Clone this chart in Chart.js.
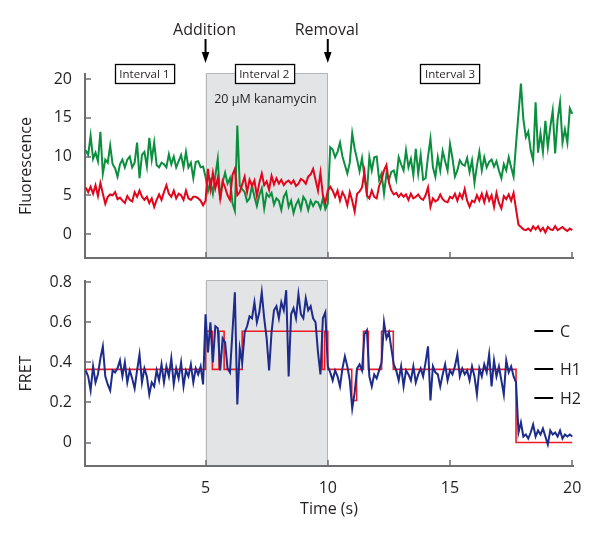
<!DOCTYPE html>
<html>
<head>
<meta charset="utf-8">
<script src="https://cdn.jsdelivr.net/npm/chart.js@4.4.1/dist/chart.umd.min.js"></script>
<style>
  html, body { margin: 0; padding: 0; background: #ffffff; }
  #wrap { position: relative; width: 601px; height: 537px; }
  canvas { position: absolute; left: 0; top: 0; }
</style>
</head>
<body>
<div id="wrap">
  <canvas id="fluo" width="601" height="537"></canvas>
  <canvas id="fret" width="601" height="537"></canvas>
</div>
<script>
// ---------------- DATA ----------------
const frameTimes = [
  0.1,0.2,0.3,0.4,0.5,0.6,0.7,0.8,0.9,1.0,1.1,1.2,1.3,1.4,1.5,1.6,1.7,1.8,1.9,2.0,
  2.1,2.2,2.3,2.4,2.5,2.6,2.7,2.8,2.9,3.0,3.1,3.2,3.3,3.4,3.5,3.6,3.7,3.8,3.9,4.0,
  4.1,4.2,4.3,4.4,4.5,4.6,4.7,4.8,4.9,5.0,5.1,5.2,5.3,5.4,5.5,5.6,5.7,5.8,5.9,6.0,
  6.1,6.2,6.3,6.4,6.5,6.6,6.7,6.8,6.9,7.0,7.1,7.2,7.3,7.4,7.5,7.6,7.7,7.8,7.9,8.0,
  8.1,8.2,8.3,8.4,8.5,8.6,8.7,8.8,8.9,9.0,9.1,9.2,9.3,9.4,9.5,9.6,9.7,9.8,9.9,10.0,
  10.1,10.2,10.3,10.4,10.5,10.6,10.7,10.8,10.9,11.0,11.1,11.2,11.3,11.4,11.5,11.6,11.7,11.8,11.9,12.0,
  12.1,12.2,12.3,12.4,12.5,12.6,12.7,12.8,12.9,13.0,13.1,13.2,13.3,13.4,13.5,13.6,13.7,13.8,13.9,14.0,
  14.1,14.2,14.3,14.4,14.5,14.6,14.7,14.8,14.9,15.0,15.1,15.2,15.3,15.4,15.5,15.6,15.7,15.8,15.9,16.0,
  16.1,16.2,16.3,16.4,16.5,16.6,16.7,16.8,16.9,17.0,17.1,17.2,17.3,17.4,17.5,17.6,17.7,17.8,17.9,18.0,
  18.1,18.2,18.3,18.4,18.5,18.6,18.7,18.8,18.9,19.0,19.1,19.2,19.3,19.4,19.5,19.6,19.7,19.8,19.9,20.0
];

// Donor (green) fluorescence
const donorFluorescence = [
  10.8,10.2,12.7,9.7,10.5,9.4,13.2,7.8,9.6,9.2, 11.4,9.0,8.5,7.4,9.0,9.6,8.6,9.6,10.0,8.6,
  9.2,11.8,7.2,10.2,10.6,8.7,12.4,9.6,11.8,8.9, 8.6,9.2,9.0,8.6,10.3,9.0,10.0,8.6,9.4,10.2,
  8.6,10.6,8.6,9.2,7.2,9.3,9.4,8.6,8.7,7.4,
  5.5,6.8,5.2,7.5,9.7,4.4,6.7,7.9,6.5,7.2, 4.0,3.0,14.0,6.2,5.8,5.4,4.2,4.6,6.2,4.8,
  3.6,5.0,5.9,3.3,5.2,4.8,5.3,3.8,4.6,4.3, 3.1,4.8,5.4,3.5,4.3,2.7,3.8,4.4,3.2,4.8,
  4.3,3.1,4.3,3.6,4.2,4.1,3.3,4.6,3.2,3.9,
  11.2,10.9,9.9,10.6,11.8,10.0,8.9,7.8,9.2,13.0, 11.0,9.6,8.1,9.8,7.4,5.3,9.9,8.2,9.9,10.0,
  7.0,7.8,5.2,7.8,7.0,8.0,8.2,7.0,9.9,9.0, 8.2,10.8,8.6,9.7,7.6,11.0,7.8,10.2,7.0,7.2,
  10.0,12.3,8.6,7.4,9.9,8.2,10.7,9.4,8.2,11.6, 9.8,7.4,8.2,9.5,9.0,8.8,9.8,8.0,9.5,6.6,
  8.8,10.6,8.2,9.9,8.6,9.3,9.6,8.7,9.4,8.2, 7.2,9.0,8.2,9.9,8.6,7.4,11.6,15.5,19.4,14.8,
  12.5,13.2,10.8,9.5,17.0,10.5,13.0,10.6,14.6,11.2, 13.8,15.9,10.4,14.8,17.0,11.8,13.5,11.8,16.2,15.5
];

// Acceptor (red) fluorescence
const acceptorFluorescence = [
  6.0,5.4,6.1,5.2,6.3,4.9,6.6,5.2,3.9,4.8, 5.1,5.0,5.4,4.5,4.7,4.3,4.0,4.9,4.4,4.2,
  5.4,4.8,5.6,4.8,4.4,4.8,4.0,4.6,3.5,4.4, 5.1,4.4,5.4,6.3,5.2,4.8,5.6,4.6,5.2,5.0,
  4.4,5.6,4.6,4.4,4.8,4.8,4.6,4.3,3.7,4.3,
  8.4,5.8,7.9,5.9,7.2,4.6,6.8,6.0,5.0,4.4, 7.6,8.4,5.0,5.4,6.4,7.4,5.4,7.0,6.2,6.9,
  4.9,6.6,7.8,6.3,6.8,5.7,7.5,6.4,7.2,6.5, 7.0,6.3,6.7,6.9,6.5,6.9,6.2,6.5,7.1,6.9,
  6.5,7.4,7.7,8.4,7.0,5.6,7.9,5.0,4.0,5.6,
  6.1,5.6,4.8,5.6,4.3,5.4,4.8,3.7,5.4,4.3, 2.9,5.2,5.5,6.0,8.0,5.0,4.6,5.6,4.8,4.6,
  6.2,7.0,8.2,8.9,6.6,5.6,5.1,5.3,4.8,5.2, 4.8,5.1,4.4,5.2,4.6,4.8,5.1,4.6,4.4,5.0,
  6.0,3.5,4.6,4.2,4.4,5.1,4.5,4.2,4.1,4.8, 4.6,5.2,4.3,5.2,4.6,5.8,4.3,3.5,4.3,4.1,
  5.0,4.3,5.2,4.1,5.3,4.3,5.0,3.5,5.3,4.0, 3.3,4.9,4.5,5.1,4.3,5.3,3.2,1.2,0.9,0.6,
  0.5,0.7,0.4,1.0,0.6,1.0,0.4,0.8,0.2,0.9, 0.6,0.5,1.0,0.5,0.7,0.9,0.6,0.4,0.7,0.5
];

// FRET efficiency (blue)
const fretTrace = [
  0.36,0.33,0.26,0.38,0.30,0.34,0.42,0.48,0.33,0.29, 0.26,0.36,0.35,0.37,0.41,0.33,0.40,0.30,0.36,0.32,
  0.27,0.36,0.44,0.30,0.37,0.33,0.24,0.30,0.28,0.36, 0.31,0.39,0.30,0.38,0.33,0.42,0.29,0.37,0.32,0.40,
  0.28,0.36,0.33,0.39,0.30,0.37,0.34,0.38,0.29,0.64,
  0.45,0.60,0.40,0.58,0.57,0.36,0.52,0.50,0.37,0.35, 0.55,0.75,0.19,0.47,0.40,0.55,0.58,0.63,0.62,0.70,
  0.60,0.65,0.75,0.62,0.52,0.36,0.55,0.66,0.68,0.62, 0.70,0.66,0.76,0.33,0.64,0.67,0.62,0.74,0.64,0.62,
  0.72,0.66,0.68,0.62,0.60,0.45,0.34,0.62,0.65,0.38,
  0.35,0.31,0.36,0.33,0.28,0.37,0.43,0.38,0.31,0.17, 0.25,0.37,0.39,0.36,0.54,0.56,0.33,0.28,0.34,0.32,
  0.36,0.40,0.60,0.52,0.55,0.47,0.39,0.36,0.31,0.38, 0.28,0.36,0.34,0.31,0.38,0.30,0.34,0.37,0.33,0.40,
  0.48,0.21,0.38,0.35,0.34,0.28,0.34,0.39,0.31,0.36, 0.34,0.38,0.44,0.33,0.37,0.34,0.36,0.31,0.38,0.33,
  0.24,0.37,0.33,0.39,0.35,0.44,0.28,0.41,0.33,0.38, 0.31,0.24,0.41,0.35,0.38,0.33,0.30,0.05,0.10,0.03,
  0.04,0.02,0.05,0.09,0.03,0.06,0.04,0.07,0.03,-0.01, 0.06,0.04,0.05,0.03,0.06,0.02,0.04,0.03,0.04,0.03
];

// Idealized (step) FRET fit: start time of each dwell and its level
const fitTimes  = [0.07, 5.0, 5.28, 5.55, 5.76, 6.5, 9.77, 9.87, 10.0, 10.98, 11.18, 11.46, 11.66, 12.2, 12.68, 17.7, 20.0];
const fitLevels = [0.365, 0.555, 0.365, 0.555, 0.365, 0.555, 0.365, 0.555, 0.365, 0.21, 0.365, 0.555, 0.365, 0.555, 0.365, 0.0, 0.0];

// State reference levels (right side markers)
const stateNames  = ['C', 'H1', 'H2'];
const stateLevels = [0.555, 0.365, 0.22];

// Axes / annotation values
const timeRange = [0.07, 20.03];
const timeTicks = [5, 10, 15, 20];
const fluoRange = [-3.1, 20.65];
const fluoTicks = [0, 5, 10, 15, 20];
const fretRange = [-0.117, 0.806];
const fretTicks = [0, 0.2, 0.4, 0.6, 0.8];
const drugWindow = [5, 10];               // kanamycin addition / removal times
const eventLabels = ['Addition', 'Removal'];
const intervalNames = ['Interval 1', 'Interval 2', 'Interval 3'];
const intervalCenters = [2.5, 7.4, 15.0];
const drugLabel = '20 \u03BCM kanamycin';

// ---------------- STYLE ----------------
const FONT = "'Open Sans', 'DejaVu Sans', sans-serif";
const TEXT = '#231f20';
const AXIS = '#6d6e71';
const GREEN = '#0b8f3e';
const RED = '#e2061c';
const BLUE = '#1d2b8a';
const FIT_RED = '#ec1c24';
const SHADE = '#e3e4e6';
const SHADE_EDGE = '#b4b5b7';

function pts(xs, ys) { return xs.map((t, i) => ({ x: t, y: ys[i] })); }

const shadePlugin = {
  id: 'shade',
  beforeDraw(chart) {
    const { ctx, chartArea, scales } = chart;
    const x1 = scales.x.getPixelForValue(drugWindow[0]);
    const x2 = scales.x.getPixelForValue(drugWindow[1]);
    const top = chartArea.top - 1;
    ctx.save();
    ctx.fillStyle = SHADE;
    ctx.fillRect(x1, top, x2 - x1, chartArea.bottom - top);
    ctx.strokeStyle = SHADE_EDGE;
    ctx.lineWidth = 1;
    ctx.beginPath();
    ctx.moveTo(Math.round(x1) + 0.5, chartArea.bottom);
    ctx.lineTo(Math.round(x1) + 0.5, top + 0.5);
    ctx.lineTo(Math.round(x2) - 0.5, top + 0.5);
    ctx.lineTo(Math.round(x2) - 0.5, chartArea.bottom);
    ctx.stroke();
    ctx.restore();
  }
};

const inwardTicksPlugin = {
  id: 'inwardTicks',
  afterDraw(chart) {
    const { ctx, chartArea, scales } = chart;
    ctx.save();
    ctx.strokeStyle = AXIS;
    ctx.lineWidth = 1.5;
    ctx.beginPath();
    scales.x.ticks.forEach(t => {
      const px = Math.round(scales.x.getPixelForValue(t.value));
      ctx.moveTo(px, chartArea.bottom);
      ctx.lineTo(px, chartArea.bottom - 6);
    });
    scales.y.ticks.forEach(t => {
      const py = Math.round(scales.y.getPixelForValue(t.value));
      ctx.moveTo(chartArea.left, py);
      ctx.lineTo(chartArea.left + 6, py);
    });
    ctx.stroke();
    ctx.restore();
  }
};

const fluoAnnotations = {
  id: 'fluoAnnotations',
  afterDraw(chart) {
    const { ctx, chartArea, scales } = chart;
    const top = chartArea.top;
    ctx.save();
    // event labels and arrows
    drugWindow.forEach((t, i) => {
      const x = scales.x.getPixelForValue(t);
      ctx.fillStyle = TEXT;
      ctx.font = '16px ' + FONT;
      ctx.textAlign = 'center';
      ctx.textBaseline = 'alphabetic';
      ctx.fillText(eventLabels[i], x - 1, top - 39);
      ctx.strokeStyle = '#000';
      ctx.lineWidth = 2;
      ctx.beginPath();
      ctx.moveTo(x, top - 35);
      ctx.lineTo(x, top - 19);
      ctx.stroke();
      ctx.fillStyle = '#000';
      ctx.beginPath();
      ctx.moveTo(x - 3.8, top - 22);
      ctx.lineTo(x + 3.8, top - 22);
      ctx.lineTo(x, top - 11);
      ctx.closePath();
      ctx.fill();
    });
    // interval boxes
    ctx.font = '11.5px ' + FONT;
    intervalNames.forEach((name, i) => {
      const cx = scales.x.getPixelForValue(intervalCenters[i]);
      const w = ctx.measureText(name).width + 9;
      const h = 19;
      const bx = Math.round(cx - w / 2) + 0.5;
      const by = top - 9.5;
      ctx.fillStyle = '#ffffff';
      ctx.fillRect(bx, by, w, h);
      ctx.strokeStyle = '#000';
      ctx.lineWidth = 1.3;
      ctx.strokeRect(bx, by, w, h);
      ctx.fillStyle = TEXT;
      ctx.textAlign = 'center';
      ctx.textBaseline = 'middle';
      ctx.fillText(name, cx, top + 0.5);
    });
    // drug label
    ctx.font = '12.5px ' + FONT;
    ctx.fillStyle = TEXT;
    ctx.textAlign = 'center';
    ctx.textBaseline = 'middle';
    ctx.fillText(drugLabel, scales.x.getPixelForValue(7.45), top + 25);
    ctx.restore();
  }
};

const stateMarkers = {
  id: 'stateMarkers',
  afterDraw(chart) {
    const { ctx, scales } = chart;
    ctx.save();
    ctx.strokeStyle = '#000';
    ctx.lineWidth = 2;
    ctx.fillStyle = TEXT;
    ctx.font = '16px ' + FONT;
    ctx.textAlign = 'left';
    ctx.textBaseline = 'middle';
    stateLevels.forEach((v, i) => {
      const y = Math.round(scales.y.getPixelForValue(v));
      const x1 = scales.x.getPixelForValue(18.45);
      const x2 = scales.x.getPixelForValue(19.22);
      ctx.beginPath();
      ctx.moveTo(x1, y);
      ctx.lineTo(x2, y);
      ctx.stroke();
      ctx.fillText(stateNames[i], scales.x.getPixelForValue(19.5), y + 1);
    });
    ctx.restore();
  }
};

function xScale(opts) {
  return Object.assign({
    type: 'linear',
    min: timeRange[0],
    max: timeRange[1],
    afterBuildTicks: s => { s.ticks = timeTicks.map(v => ({ value: v })); },
    grid: { display: false, drawTicks: false },
    border: { display: true, color: AXIS, width: 2 },
  }, opts);
}

function yScale(range, ticks, title) {
  return {
    type: 'linear',
    min: range[0],
    max: range[1],
    afterBuildTicks: s => { s.ticks = ticks.map(v => ({ value: v })); },
    afterFit: s => { s.width = 85; },
    grid: { display: false, drawTicks: false },
    border: { display: true, color: AXIS, width: 2 },
    ticks: { padding: 13, color: TEXT, font: { family: FONT, size: 16 } },
    title: { display: true, text: title, color: TEXT, font: { family: FONT, size: 16 }, padding: { top: 17, bottom: 0 } }
  };
}

const common = {
  responsive: false,
  maintainAspectRatio: false,
  animation: false,
  events: [],
  plugins: { legend: { display: false }, tooltip: { enabled: false } }
};

// ---------------- TOP: fluorescence ----------------
new Chart(document.getElementById('fluo'), {
  type: 'line',
  data: {
    datasets: [
      { label: 'Acceptor', data: pts(frameTimes, acceptorFluorescence), borderColor: RED, borderWidth: 2, pointRadius: 0, tension: 0, fill: false },
      { label: 'Donor', data: pts(frameTimes, donorFluorescence), borderColor: GREEN, borderWidth: 2, pointRadius: 0, tension: 0, fill: false }
    ]
  },
  options: Object.assign({}, common, {
    layout: { padding: { left: 0, right: 28, top: 74, bottom: 279 } },
    scales: {
      x: xScale({ ticks: { display: false }, afterFit: s => { s.height = 0; } }),
      y: yScale(fluoRange, fluoTicks, 'Fluorescence')
    }
  }),
  plugins: [shadePlugin, inwardTicksPlugin, fluoAnnotations]
});

// ---------------- BOTTOM: FRET ----------------
new Chart(document.getElementById('fret'), {
  type: 'line',
  data: {
    datasets: [
      { label: 'FRET', data: pts(frameTimes, fretTrace), borderColor: BLUE, borderWidth: 2, pointRadius: 0, tension: 0, fill: false },
      { label: 'Fit', data: pts(fitTimes, fitLevels), borderColor: FIT_RED, borderWidth: 1.6, pointRadius: 0, stepped: 'before', fill: false }
    ]
  },
  options: Object.assign({}, common, {
    layout: { padding: { left: 0, right: 28, top: 281, bottom: 18 } },
    scales: {
      x: xScale({
        ticks: { padding: 13, color: TEXT, font: { family: FONT, size: 16 } },
        title: { display: true, text: 'Time (s)', color: TEXT, font: { family: FONT, size: 16 }, padding: { top: 0, bottom: 0 } },
        afterFit: s => { s.height = 53; }
      }),
      y: yScale(fretRange, fretTicks, 'FRET')
    }
  }),
  plugins: [shadePlugin, inwardTicksPlugin, stateMarkers]
});
</script>
</body>
</html>
